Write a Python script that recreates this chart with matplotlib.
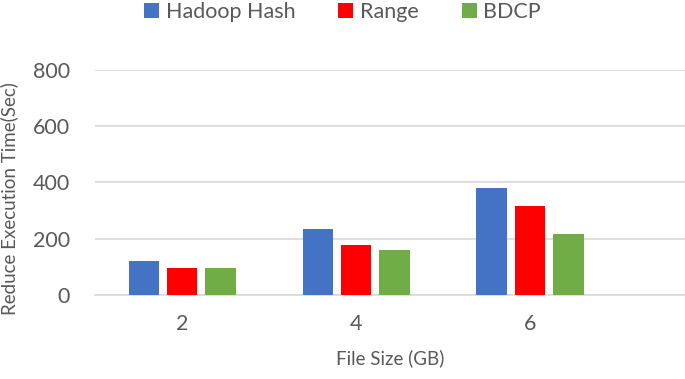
import numpy as np
import matplotlib
matplotlib.use("Agg")
import matplotlib.pyplot as plt

plt.rcParams['font.family'] = ['Lato', 'DejaVu Sans']

file_sizes = ["2", "4", "6"]
hadoop_hash = [120, 233, 380]
range_part = [97, 179, 318]
bdcp = [97, 159, 218]

series = [("Hadoop Hash", hadoop_hash, "#4472C4"),
          ("Range", range_part, "#FF0000"),
          ("BDCP", bdcp, "#70AD47")]

text_color = "#595959"

fig = plt.figure(figsize=(6.85, 3.79), dpi=100)
ax = fig.add_axes([0.139, 0.222, 0.861, 0.593])

x = np.arange(len(file_sizes))
width = 0.175
step = 0.221
for i, (name, vals, color) in enumerate(series):
    ax.bar(x + (i - 1) * step, vals, width, color=color, label=name, zorder=3)

ax.set_xlim(-0.5, 2.89)
ax.set_ylim(0, 800)
ax.set_yticks([0, 200, 400, 600, 800])
ax.set_xticks(x)
ax.set_xticklabels(file_sizes)
ax.yaxis.grid(True, color="#D9D9D9", linewidth=1.2, zorder=0)
ax.tick_params(axis="both", length=0, labelsize=15.5, labelcolor=text_color)
ax.tick_params(axis="y", pad=18)
ax.tick_params(axis="x", pad=14)
for side in ["top", "right", "left"]:
    ax.spines[side].set_visible(False)
ax.spines["bottom"].set_color("#D9D9D9")
ax.spines["bottom"].set_linewidth(1.2)

ax.set_xlabel("File Size (GB)", fontsize=13.5, color=text_color, labelpad=11)
fig.text(0.014, 0.475, "Reduce Execution Time(Sec)", rotation=90, ha="center", va="center",
         fontsize=13.5, color=text_color)

fig.legend(loc="upper center", bbox_to_anchor=(0.5, 1.045), ncol=3, frameon=False,
           fontsize=15.5, labelcolor=text_color, handlelength=0.7, handleheight=0.7,
           handletextpad=0.3, columnspacing=2.0)

fig.savefig("out.png", dpi=100)
